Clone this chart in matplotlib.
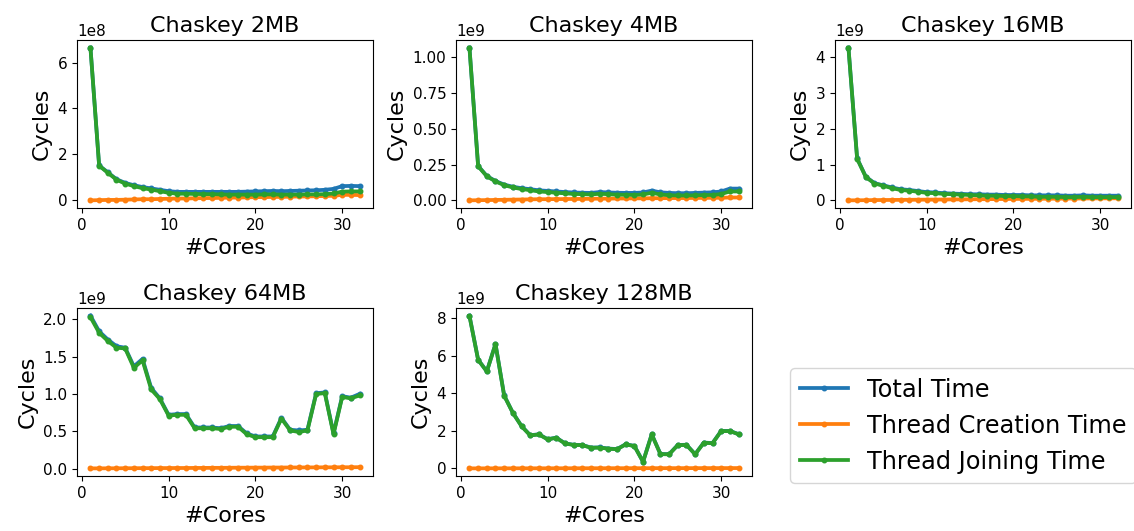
import matplotlib
matplotlib.use("Agg")
import matplotlib.pyplot as plt

cores = list(range(1, 33))

titles = ["Chaskey 2MB", "Chaskey 4MB", "Chaskey 16MB", "Chaskey 64MB", "Chaskey 128MB"]

total_2 = [6.65e8, 1.52e8, 1.22e8, 0.92e8, 0.76e8, 0.66e8, 0.58e8, 0.52e8, 0.46e8, 0.40e8, 0.37e8, 0.37e8, 0.37e8, 0.37e8, 0.37e8, 0.37e8,
           0.37e8, 0.37e8, 0.38e8, 0.39e8, 0.40e8, 0.41e8, 0.40e8, 0.41e8, 0.42e8, 0.43e8, 0.44e8, 0.46e8, 0.50e8, 0.62e8, 0.63e8, 0.62e8]
creation_2 = [0.00e8, 0.01e8, 0.02e8, 0.02e8, 0.03e8, 0.04e8, 0.05e8, 0.05e8, 0.06e8, 0.07e8, 0.08e8, 0.08e8, 0.09e8, 0.10e8, 0.10e8, 0.11e8,
              0.12e8, 0.12e8, 0.13e8, 0.14e8, 0.14e8, 0.15e8, 0.15e8, 0.16e8, 0.17e8, 0.17e8, 0.18e8, 0.19e8, 0.20e8, 0.24e8, 0.24e8, 0.23e8]
joining_2 = [6.65e8, 1.51e8, 1.20e8, 0.90e8, 0.73e8, 0.62e8, 0.53e8, 0.47e8, 0.40e8, 0.33e8, 0.29e8, 0.29e8, 0.28e8, 0.27e8, 0.27e8, 0.26e8,
             0.25e8, 0.25e8, 0.25e8, 0.25e8, 0.26e8, 0.26e8, 0.25e8, 0.25e8, 0.25e8, 0.26e8, 0.26e8, 0.27e8, 0.30e8, 0.38e8, 0.39e8, 0.39e8]

total_4 = [1.065e9, 0.240e9, 0.170e9, 0.135e9, 0.110e9, 0.095e9, 0.085e9, 0.078e9, 0.070e9, 0.066e9, 0.062e9, 0.058e9, 0.055e9, 0.053e9, 0.052e9, 0.058e9,
           0.055e9, 0.053e9, 0.052e9, 0.052e9, 0.055e9, 0.068e9, 0.056e9, 0.052e9, 0.050e9, 0.050e9, 0.052e9, 0.054e9, 0.056e9, 0.062e9, 0.082e9, 0.082e9]
creation_4 = [0.000e9, 0.001e9, 0.002e9, 0.003e9, 0.004e9, 0.005e9, 0.006e9, 0.007e9, 0.008e9, 0.008e9, 0.009e9, 0.009e9, 0.010e9, 0.010e9, 0.011e9, 0.012e9,
              0.012e9, 0.013e9, 0.013e9, 0.014e9, 0.014e9, 0.015e9, 0.015e9, 0.016e9, 0.016e9, 0.016e9, 0.017e9, 0.017e9, 0.018e9, 0.018e9, 0.020e9, 0.020e9]
joining_4 = [1.065e9, 0.238e9, 0.168e9, 0.132e9, 0.106e9, 0.090e9, 0.079e9, 0.071e9, 0.062e9, 0.058e9, 0.053e9, 0.049e9, 0.045e9, 0.043e9, 0.041e9, 0.046e9,
             0.043e9, 0.040e9, 0.039e9, 0.038e9, 0.041e9, 0.053e9, 0.041e9, 0.036e9, 0.034e9, 0.034e9, 0.035e9, 0.037e9, 0.038e9, 0.044e9, 0.062e9, 0.062e9]

total_16 = [4.26e9, 1.17e9, 0.66e9, 0.48e9, 0.42e9, 0.36e9, 0.31e9, 0.29e9, 0.26e9, 0.23e9, 0.22e9, 0.20e9, 0.19e9, 0.18e9, 0.17e9, 0.17e9,
            0.16e9, 0.16e9, 0.15e9, 0.15e9, 0.15e9, 0.14e9, 0.14e9, 0.14e9, 0.14e9, 0.13e9, 0.13e9, 0.14e9, 0.13e9, 0.13e9, 0.13e9, 0.13e9]
creation_16 = [0.000e9, 0.002e9, 0.005e9, 0.008e9, 0.010e9, 0.012e9, 0.014e9, 0.016e9, 0.018e9, 0.020e9, 0.021e9, 0.024e9, 0.026e9, 0.027e9, 0.030e9, 0.032e9,
               0.033e9, 0.036e9, 0.037e9, 0.040e9, 0.041e9, 0.042e9, 0.044e9, 0.046e9, 0.047e9, 0.050e9, 0.051e9, 0.052e9, 0.054e9, 0.055e9, 0.057e9, 0.058e9]
joining_16 = [4.26e9, 1.16e9, 0.65e9, 0.47e9, 0.41e9, 0.34e9, 0.29e9, 0.27e9, 0.24e9, 0.21e9, 0.20e9, 0.18e9, 0.17e9, 0.16e9, 0.15e9, 0.14e9,
              0.13e9, 0.13e9, 0.12e9, 0.12e9, 0.11e9, 0.11e9, 0.10e9, 0.10e9, 0.10e9, 0.09e9, 0.09e9, 0.10e9, 0.09e9, 0.09e9, 0.09e9, 0.09e9]

total_64 = [2.05e9, 1.84e9, 1.73e9, 1.64e9, 1.62e9, 1.37e9, 1.47e9, 1.08e9, 0.94e9, 0.72e9, 0.73e9, 0.73e9, 0.55e9, 0.55e9, 0.55e9, 0.54e9,
            0.57e9, 0.57e9, 0.47e9, 0.43e9, 0.43e9, 0.43e9, 0.68e9, 0.52e9, 0.51e9, 0.52e9, 1.01e9, 1.02e9, 0.47e9, 0.97e9, 0.95e9, 1.00e9]
creation_64 = [0.002e9, 0.002e9, 0.003e9, 0.003e9, 0.004e9, 0.004e9, 0.005e9, 0.005e9, 0.006e9, 0.006e9, 0.007e9, 0.007e9, 0.008e9, 0.008e9, 0.009e9, 0.009e9,
               0.010e9, 0.011e9, 0.011e9, 0.012e9, 0.012e9, 0.013e9, 0.013e9, 0.014e9, 0.014e9, 0.015e9, 0.015e9, 0.016e9, 0.016e9, 0.017e9, 0.017e9, 0.018e9]
joining_64 = [2.03e9, 1.82e9, 1.71e9, 1.62e9, 1.61e9, 1.35e9, 1.45e9, 1.06e9, 0.93e9, 0.71e9, 0.72e9, 0.72e9, 0.54e9, 0.54e9, 0.54e9, 0.53e9,
              0.56e9, 0.56e9, 0.46e9, 0.42e9, 0.42e9, 0.42e9, 0.67e9, 0.51e9, 0.49e9, 0.51e9, 1.00e9, 1.01e9, 0.46e9, 0.96e9, 0.94e9, 0.98e9]

total_128 = [8.15e9, 5.80e9, 5.18e9, 6.64e9, 3.89e9, 2.97e9, 2.26e9, 1.77e9, 1.82e9, 1.56e9, 1.64e9, 1.34e9, 1.26e9, 1.25e9, 1.11e9, 1.12e9,
             1.06e9, 1.03e9, 1.29e9, 1.20e9, 0.36e9, 1.82e9, 0.77e9, 0.76e9, 1.25e9, 1.26e9, 0.76e9, 1.38e9, 1.35e9, 2.00e9, 2.00e9, 1.83e9]
creation_128 = [0.002e9, 0.002e9, 0.003e9, 0.003e9, 0.004e9, 0.004e9, 0.005e9, 0.005e9, 0.006e9, 0.006e9, 0.007e9, 0.007e9, 0.008e9, 0.008e9, 0.009e9, 0.009e9,
                0.010e9, 0.011e9, 0.011e9, 0.012e9, 0.012e9, 0.013e9, 0.013e9, 0.014e9, 0.014e9, 0.015e9, 0.015e9, 0.016e9, 0.016e9, 0.017e9, 0.017e9, 0.018e9]
joining_128 = [8.13e9, 5.79e9, 5.17e9, 6.63e9, 3.88e9, 2.96e9, 2.25e9, 1.76e9, 1.81e9, 1.55e9, 1.63e9, 1.33e9, 1.25e9, 1.24e9, 1.10e9, 1.11e9,
               1.05e9, 1.02e9, 1.28e9, 1.19e9, 0.35e9, 1.81e9, 0.76e9, 0.75e9, 1.24e9, 1.25e9, 0.75e9, 1.37e9, 1.34e9, 1.99e9, 1.99e9, 1.82e9]

series_labels = ["Total Time", "Thread Creation Time", "Thread Joining Time"]

datasets = [
    (total_2, creation_2, joining_2),
    (total_4, creation_4, joining_4),
    (total_16, creation_16, joining_16),
    (total_64, creation_64, joining_64),
    (total_128, creation_128, joining_128),
]

W, H = 1134, 531
fig = plt.figure(figsize=(W / 100, H / 100), dpi=100)

col_left = [77, 456, 835]
row_top = [40, 308]
ax_w, ax_h = 296, 168

positions = [(0, 0), (0, 1), (0, 2), (1, 0), (1, 1)]
handles = None
for (r, c), title, (tot, cre, joi) in zip(positions, titles, datasets):
    left = col_left[c] / W
    bottom = 1 - (row_top[r] + ax_h) / H
    ax = fig.add_axes([left, bottom, ax_w / W, ax_h / H])
    h1, = ax.plot(cores, tot, marker='.', linewidth=2.7, markersize=6.5, color='C0', label=series_labels[0])
    h2, = ax.plot(cores, cre, marker='.', linewidth=2.7, markersize=6.5, color='C1', label=series_labels[1])
    h3, = ax.plot(cores, joi, marker='.', linewidth=2.7, markersize=6.5, color='C2', label=series_labels[2])
    handles = [h1, h2, h3]
    ax.set_title(title, fontsize=16)
    ax.set_xlabel("#Cores", fontsize=16)
    ax.set_ylabel("Cycles", fontsize=16)
    ax.tick_params(labelsize=11)
    ax.yaxis.get_offset_text().set_fontsize(11)
    ax.set_xticks([0, 10, 20, 30])

fig.legend(handles, series_labels, loc='upper left',
           bbox_to_anchor=(790 / W, 1 - 368 / H), fontsize=17.3, borderaxespad=0)

fig.savefig("out.png", dpi=100)
